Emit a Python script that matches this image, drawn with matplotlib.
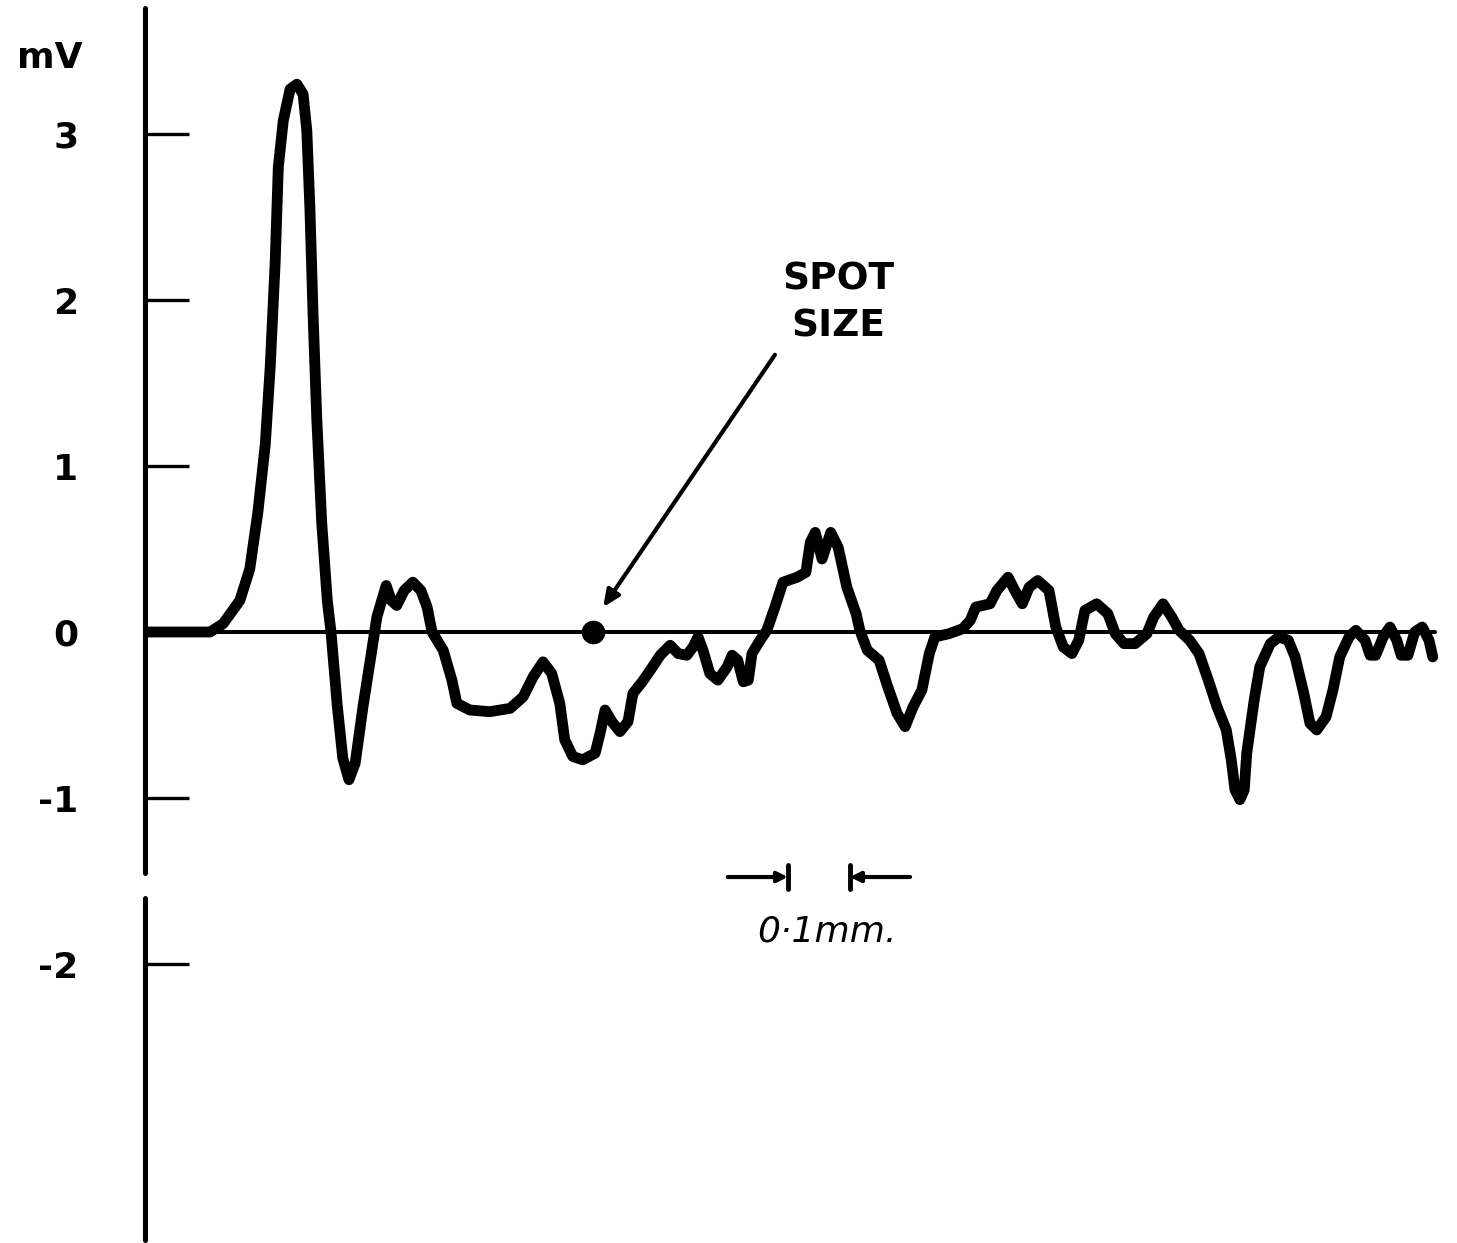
import matplotlib
matplotlib.use("Agg")
import matplotlib.pyplot as plt

# Position along the scan (micrometres) and recorded potential (mV)
position_um = [0, 105, 126, 153, 169, 182, 194, 202, 210, 215, 223, 234, 245, 255,
               261, 266, 271, 277, 285, 294, 300, 310, 319, 329, 339, 352, 365, 374,
               389, 397, 406, 418, 432, 445, 455, 463, 481, 495, 503, 524, 556, 589,
               610, 626, 642, 656, 669, 677, 690, 706, 726, 734, 742, 753, 766, 779,
               787, 802, 815, 831, 847, 860, 874, 884, 892, 900, 911, 924, 939, 947,
               956, 965, 973, 979, 992, 1003, 1016, 1029, 1052, 1066, 1073, 1081, 1092,
               1106, 1118, 1132, 1147, 1153, 1165, 1184, 1198, 1213, 1226, 1239, 1253,
               1265, 1274, 1297, 1319, 1331, 1340, 1363, 1374, 1392, 1403, 1415, 1426,
               1440, 1458, 1469, 1481, 1495, 1506, 1516, 1535, 1553, 1565, 1579, 1597,
               1616, 1627, 1642, 1656, 1668, 1685, 1700, 1715, 1729, 1744, 1752, 1758,
               1766, 1773, 1777, 1789, 1798, 1815, 1829, 1844, 1855, 1869, 1879, 1890,
               1905, 1916, 1927, 1942, 1953, 1968, 1976, 1985, 1997, 2008, 2019, 2026,
               2037, 2048, 2060, 2071, 2077]
potential_mv = [0, 0, 0.05, 0.19, 0.38, 0.72, 1.13, 1.60, 2.23, 2.80, 3.08, 3.27, 3.30, 3.24,
                3.02, 2.55, 1.92, 1.29, 0.66, 0.19, 0, -0.44, -0.76, -0.89, -0.79, -0.44, -0.13, 0.09,
                0.28, 0.19, 0.16, 0.25, 0.30, 0.25, 0.15, 0, -0.11, -0.29, -0.43, -0.47, -0.48, -0.46,
                -0.39, -0.27, -0.18, -0.25, -0.43, -0.65, -0.75, -0.77, -0.73, -0.61, -0.47, -0.54, -0.60, -0.54,
                -0.37, -0.30, -0.23, -0.14, -0.08, -0.13, -0.14, -0.09, -0.03, -0.11, -0.25, -0.29, -0.21, -0.14,
                -0.17, -0.30, -0.29, -0.13, -0.05, 0.01, 0.15, 0.30, 0.33, 0.36, 0.54, 0.60, 0.44,
                0.60, 0.51, 0.27, 0.11, 0.01, -0.11, -0.17, -0.33, -0.49, -0.57, -0.45, -0.35,
                -0.13, -0.03, -0.01, 0.02, 0.07, 0.15, 0.17, 0.25, 0.33, 0.25, 0.17, 0.27,
                0.31, 0.25, 0.03, -0.09, -0.13, -0.05, 0.13, 0.17, 0.11, -0.01, -0.07, -0.07,
                -0.01, 0.09, 0.17, 0.09, 0.01, -0.05, -0.13, -0.29, -0.45, -0.59, -0.77, -0.95,
                -1.01, -0.95, -0.73, -0.41, -0.21, -0.07, -0.03, -0.05, -0.15, -0.37, -0.55, -0.59,
                -0.51, -0.35, -0.15, -0.03, 0.01, -0.05, -0.14, -0.14, -0.03, 0.03, -0.05, -0.14,
                -0.14, 0, 0.03, -0.05, -0.15]

y_ticks = [3, 2, 1, 0, -1, -2]
y_tick_labels = ["3", "2", "1", "0", "-1", "-2"]
spot_position_um = 723
scale_bar_um = [1037, 1137]

W, H = 1457, 1243
fig = plt.figure(figsize=(W / 100, H / 100), dpi=100)
ax = fig.add_axes([145 / W, 0, 1 - 145 / W, 1])
ax.set_xlim(0, (W - 145) / 0.62)
ax.set_ylim((632 - H) / 166.0, 632 / 166.0)
for s in ax.spines.values():
    s.set_visible(False)
ax.set_xticks([])
ax.set_yticks(y_ticks)
ax.set_yticklabels(y_tick_labels)
ax.tick_params(axis="y", direction="in", length=32, width=2.4, pad=48,
               labelsize=26, color="black")
for lab in ax.get_yticklabels():
    lab.set_fontweight("bold")

# vertical axis drawn in two pieces (gap as in the original)
ax.plot([0, 0], [3.76, -1.45], color="black", lw=3.6, solid_capstyle="round", clip_on=False)
ax.plot([0, 0], [-1.60, -3.66], color="black", lw=3.6, solid_capstyle="round", clip_on=False)

# baseline
ax.plot([0, 2080], [0, 0], color="black", lw=2.9, solid_capstyle="round")

# trace
ax.plot(position_um, potential_mv, color="black", lw=7.8,
        solid_joinstyle="round", solid_capstyle="round")

# spot size marker
ax.plot([spot_position_um], [0], "o", color="black", markersize=16)
ax.annotate("", xy=(739, 0.15), xytext=(1016, 1.67),
            arrowprops=dict(arrowstyle="-|>,head_length=1.0,head_width=0.45",
                            color="black", lw=3.0, shrinkA=0, shrinkB=0))
ax.text(1118, 1.98, "SPOT\nSIZE", ha="center", va="center", fontsize=27,
        fontweight="bold", linespacing=1.4)

# scale bar
ybar = -1.476
ax.annotate("", xy=(scale_bar_um[0], ybar), xytext=(scale_bar_um[0] - 97, ybar),
            arrowprops=dict(arrowstyle="-|>,head_length=0.6,head_width=0.3",
                            color="black", lw=3.0, shrinkA=0, shrinkB=0))
ax.annotate("", xy=(scale_bar_um[1], ybar), xytext=(scale_bar_um[1] + 97, ybar),
            arrowprops=dict(arrowstyle="-|>,head_length=0.6,head_width=0.3",
                            color="black", lw=3.0, shrinkA=0, shrinkB=0))
for xb in scale_bar_um:
    ax.plot([xb, xb], [ybar - 0.07, ybar + 0.07], color="black", lw=3.5,
            solid_capstyle="round")
ax.text(sum(scale_bar_um) / 2 + 13, -1.807, "0·1mm.", ha="center", va="center",
        fontsize=26, style="italic")

# unit label
ax.text(-153, 3.46, "mV", ha="center", va="center", fontsize=26,
        fontweight="bold", clip_on=False)

fig.savefig("out.png", dpi=100)
